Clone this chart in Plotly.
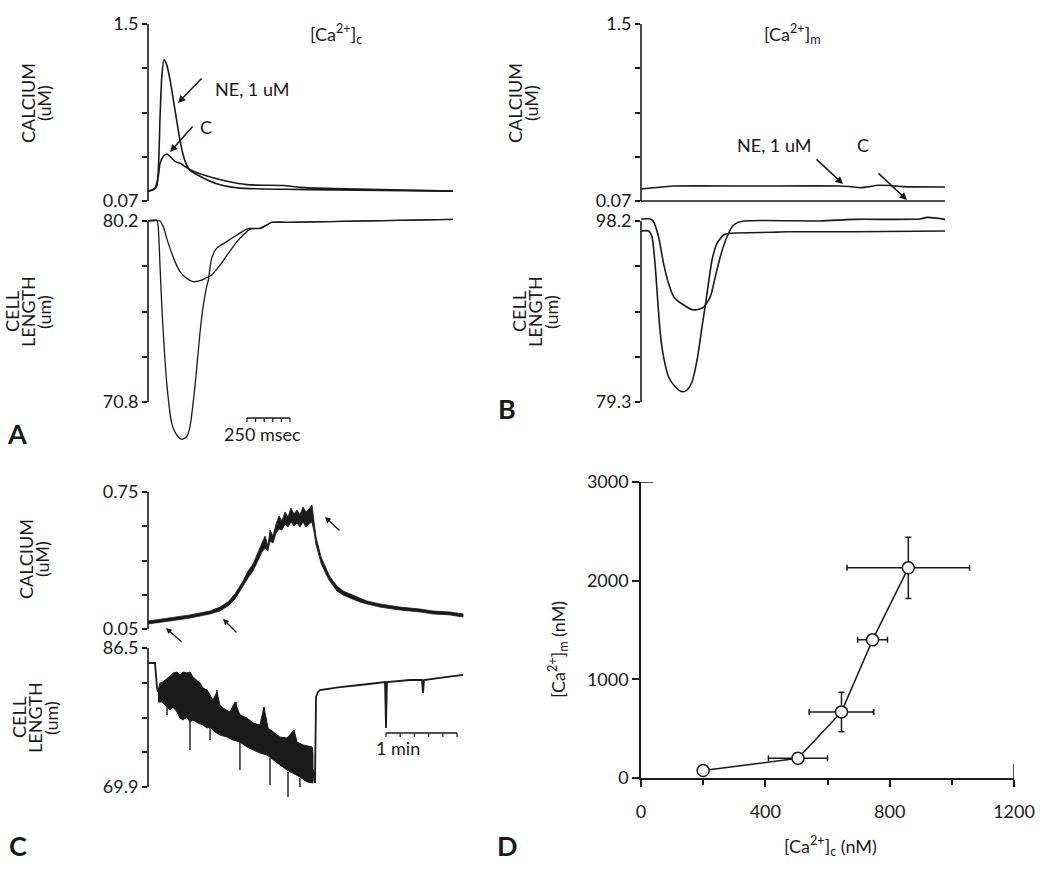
import plotly.graph_objects as go

W, H = 1050, 877
FONT = "Lato"
INK = "#1a1a1a"

# ---------------- Panel A : cytosolic Ca2+ (uM) and cell length (um) vs time (ms)
a_ca_ne_t = [0, 31, 51, 70, 80, 93, 109, 128, 147, 167, 186, 205, 225, 244, 302, 399, 496, 593, 785, 1076, 1773]
a_ca_ne_v = [0.15, 0.16, 0.19, 0.75, 1.07, 1.21, 1.17, 1.05, 0.89, 0.72, 0.56, 0.44, 0.36, 0.32, 0.27, 0.21, 0.18, 0.17, 0.165, 0.16, 0.15]
a_ca_c_t = [0, 41, 60, 70, 89, 109, 128, 157, 186, 225, 264, 302, 399, 496, 593, 787, 884, 1078, 1773]
a_ca_c_v = [0.15, 0.175, 0.27, 0.375, 0.43, 0.45, 0.43, 0.39, 0.375, 0.34, 0.31, 0.29, 0.25, 0.22, 0.2, 0.195, 0.18, 0.17, 0.15]

a_len_ne_t = [0, 51, 60, 70, 80, 89, 109, 138, 167, 196, 225, 244, 273, 302, 322, 341, 351, 370, 399, 458, 516, 574, 593, 651, 690, 719, 806, 1773]
a_len_ne_v = [80.2, 80.25, 79.82, 77.83, 75.84, 74.37, 71.77, 69.69, 69.09, 68.86, 69.0, 69.52, 71.6, 74.37, 75.84, 76.79, 77.14, 78.26, 78.78, 79.13, 79.47, 79.78, 79.82, 79.82, 79.99, 80.13, 80.13, 80.28]
a_len_c_t = [0, 70, 89, 109, 128, 157, 186, 225, 263, 302, 341, 370, 419, 467, 516, 574, 593, 651, 690, 719, 806, 1773]
a_len_c_v = [80.2, 80.2, 79.9, 79.3, 78.78, 78.09, 77.57, 77.22, 77.05, 77.1, 77.26, 77.4, 77.91, 78.52, 79.12, 79.64, 79.78, 79.82, 79.99, 80.13, 80.13, 80.28]

a_ca_ticks = [0.07, 0.4275, 0.785, 1.1425, 1.5]
a_ca_labels = ["0.07", "", "", "", "1.5"]
a_len_ticks = [70.8, 73.15, 75.5, 77.85, 80.2]
a_len_labels = ["70.8", "", "", "", "80.2"]
a_scale_ms = 250
a_scale_div = 50

# ---------------- Panel B : mitochondrial Ca2+ (uM) and cell length (um) vs time (ms)
b_ca_ne_t = [0, 72, 188, 653, 1157, 1234, 1273, 1312, 1379, 1447, 1525, 1767]
b_ca_ne_v = [0.167, 0.177, 0.191, 0.191, 0.191, 0.183, 0.177, 0.183, 0.197, 0.195, 0.186, 0.183]
b_ca_c_t = [0, 1767]
b_ca_c_v = [0.07, 0.07]

b_len_c_t = [0, 54, 73, 102, 131, 160, 190, 248, 306, 364, 403, 432, 461, 500, 538, 596, 1043, 1236, 1624, 1663, 1769]
b_len_c_v = [98.41, 98.41, 98.13, 96.56, 93.78, 91.69, 90.3, 89.43, 88.91, 89.19, 90.3, 92.38, 94.47, 96.56, 97.78, 98.2, 98.2, 98.37, 98.41, 98.58, 98.37]
b_len_ne_t = [0, 44, 64, 83, 97, 112, 131, 160, 199, 238, 267, 297, 326, 355, 384, 413, 442, 480, 519, 752, 849, 1236, 1769]
b_len_ne_v = [97.16, 97.16, 96.56, 93.43, 89.95, 86.47, 84.03, 81.94, 80.9, 80.38, 80.55, 81.42, 83.69, 87.16, 90.65, 94.13, 95.87, 96.74, 96.92, 97.02, 97.08, 97.08, 97.16]

b_ca_ticks = [0.07, 0.4275, 0.785, 1.1425, 1.5]
b_ca_labels = ["0.07", "", "", "", "1.5"]
b_len_ticks = [79.3, 84.025, 88.75, 93.475, 98.2]
b_len_labels = ["79.3", "", "", "", "98.2"]

# ---------------- Panel C : slow Ca2+ rise (uM) and cell length (um) vs time (s)
c_ca_t = [0, 18.6, 35.5, 52.4, 60.8, 67.6, 73.5, 80.3, 84.5, 88.7, 92.9, 96.3, 98.9, 101.4, 103.1, 105.6,
          108.2, 110.7, 113.2, 115.8, 118.3, 120.8, 123.4, 125.9, 128.4, 131, 133.5, 136, 138.6, 140.3,
          142, 143.7, 146.2, 149.6, 152.9, 156.3, 159.7, 164.8, 170.7, 179.1, 185, 196, 212.9, 229.8,
          240.8, 255.2, 266.2]
c_ca_hi = [0.091, 0.106, 0.122, 0.142, 0.162, 0.188, 0.229, 0.295, 0.346, 0.382, 0.438, 0.489, 0.525, 0.474,
           0.556, 0.525, 0.586, 0.627, 0.602, 0.648, 0.622, 0.668, 0.638, 0.658, 0.632, 0.673, 0.648, 0.663,
           0.684, 0.597, 0.52, 0.479, 0.418, 0.372, 0.326, 0.295, 0.27, 0.244, 0.229, 0.208, 0.193, 0.178,
           0.162, 0.152, 0.142, 0.137, 0.127]
c_ca_lo = [0.076, 0.091, 0.106, 0.127, 0.142, 0.168, 0.203, 0.27, 0.311, 0.346, 0.397, 0.443, 0.464, 0.449,
           0.5, 0.489, 0.54, 0.561, 0.556, 0.586, 0.571, 0.597, 0.576, 0.592, 0.571, 0.597, 0.571, 0.586,
           0.597, 0.546, 0.479, 0.443, 0.387, 0.341, 0.3, 0.27, 0.244, 0.224, 0.208, 0.188, 0.178, 0.162,
           0.147, 0.137, 0.127, 0.122, 0.111]

c_len_pre_t = [0, 5.9, 7.6, 8.45]
c_len_pre_v = [84.71, 84.71, 81.8, 81.25]
c_len_top_t = [8.45, 10.1, 12.7, 16.1, 18.6, 21.1, 24.5, 27, 29.6, 32.9, 35.5, 38, 41.4, 43.9, 46.5, 49.9,
               52.4, 54.9, 58.3, 60.8, 63.4, 69.3, 73.5, 77.7, 83.7, 88.7, 94.6, 98, 101.4, 105.6, 111.5,
               117.5, 123.4, 125.9, 131, 138.6, 139.4]
c_len_top_v = [81.25, 82.32, 82.44, 82.8, 83.16, 83.51, 83.63, 83.28, 83.63, 83.51, 83.63, 83.04, 82.68, 82.32,
               81.72, 81.48, 80.89, 80.29, 81.25, 79.69, 79.33, 78.86, 80.05, 78.5, 78.14, 77.54, 77.3, 79.45,
               76.95, 76.47, 75.87, 75.75, 76.71, 75.27, 74.92, 74.68, 73.96]
c_len_bot_t = [8.45, 11.8, 16.1, 18.6, 21.1, 24.5, 27, 29.6, 32.9, 35.5, 38, 42.3, 46.5, 49.9, 52.4, 56.6,
               60.8, 66.8, 71.8, 77.7, 83.7, 88.7, 94.6, 100.6, 105.6, 111.5, 117.5, 122.5, 128.4, 134.4, 139.4]
c_len_bot_v = [80.05, 80.05, 79.45, 79.1, 79.45, 78.86, 78.14, 77.9, 78.26, 77.66, 77.9, 77.54, 77.3, 76.95,
               77.07, 76.47, 76.11, 75.87, 75.51, 75.27, 74.68, 74.32, 73.96, 73.72, 73.12, 72.53, 71.93, 71.57,
               71.09, 70.5, 70.38]
c_len_post_t = [139.4, 141.1, 142, 143.7, 145.3, 162.2, 179.1, 200.3, 201.1, 201.9, 221.4, 231.5, 232.4, 233.2, 246.7, 266.2]
c_len_post_v = [72.0, 70.38, 80.65, 81.25, 81.48, 81.84, 82.08, 82.44, 76.95, 82.44, 82.68, 82.68, 81.13, 82.68, 82.92, 83.28]
c_spike_t = [16.1, 35.5, 52.4, 58.3, 74.4, 77.7, 98.0, 103.1, 118.3, 123.4, 128.4, 138.6]
c_spike_from = [80.29, 78.26, 77.07, 79.93, 78.5, 75.51, 76.95, 73.36, 71.69, 75.16, 70.98, 73.96]
c_spike_to = [78.5, 74.32, 75.51, 81.48, 80.05, 71.93, 79.45, 70.14, 68.71, 76.71, 69.9, 74.68]

c_ca_ticks = [0.05, 0.225, 0.4, 0.575, 0.75]
c_ca_labels = ["0.05", "", "", "", "0.75"]
c_len_ticks = [69.9, 74.05, 78.2, 82.35, 86.5]
c_len_labels = ["69.9", "", "", "", "86.5"]
c_scale_s = 60
c_scale_div = 12

# ---------------- Panel D : [Ca2+]m vs [Ca2+]c (nM)
d_ca_c = [200, 505, 645, 745, 860]
d_ca_m = [75, 200, 670, 1400, 2130]
d_err_c = [0, 95, 104, 48, 197]
d_err_m = [0, 0, 200, 0, 310]
d_xticks = [0, 400, 800, 1200]
d_xminor = [200, 600, 1000]
d_yticks = [0, 1000, 2000, 3000]


# ---------------- helpers (layout geometry in page pixels)
def px(x):
    return x / W


def py(y):
    return 1 - y / H


TICKFONT = dict(family=FONT, size=18, color=INK)


def xaxis(left, right, rng):
    return dict(domain=[px(left), px(right)], range=rng, visible=False, fixedrange=True,
                automargin=False)


def yaxis(top, bot, cal_hi, cal_lo, tickvals, ticktext, anchor):
    (va, pa), (vb, pb) = cal_hi, cal_lo
    slope = (va - vb) / (pb - pa)
    rng = [vb - (bot - pb) * slope, va + (pa - top) * slope]
    return dict(domain=[py(bot), py(top)], range=rng, anchor=anchor, automargin=False,
                showline=False, showgrid=False, zeroline=False,
                ticks="outside", ticklen=5, tickwidth=1.5, tickcolor=INK,
                tickvals=tickvals, ticktext=ticktext,
                tickfont=TICKFONT, fixedrange=True)


fig = go.Figure()


def line(t, v, ax, width=1.6, shape="spline"):
    fig.add_trace(go.Scatter(x=t, y=v, mode="lines", xaxis="x" + ax, yaxis="y" + ax,
                             line=dict(color=INK, width=width, shape=shape, smoothing=0.6),
                             hoverinfo="skip", showlegend=False))


def band(t_hi, hi, t_lo, lo, ax, edge=1.0):
    fig.add_trace(go.Scatter(x=list(t_hi) + list(t_lo)[::-1], y=list(hi) + list(lo)[::-1],
                             mode="lines", fill="toself", fillcolor=INK,
                             xaxis="x" + ax, yaxis="y" + ax,
                             line=dict(color=INK, width=edge),
                             hoverinfo="skip", showlegend=False))


# Panel A
line(a_ca_ne_t, a_ca_ne_v, "1")
line(a_ca_c_t, a_ca_c_v, "1")
line(a_len_ne_t, a_len_ne_v, "2", width=1.3)
line(a_len_c_t, a_len_c_v, "2", width=1.3)
# Panel B
line(b_ca_ne_t, b_ca_ne_v, "3")
line(b_ca_c_t, b_ca_c_v, "3")
line(b_len_ne_t, b_len_ne_v, "4")
line(b_len_c_t, b_len_c_v, "4")
# Panel C
band(c_ca_t, c_ca_hi, c_ca_t, c_ca_lo, "5", edge=0.8)
line(c_len_pre_t, c_len_pre_v, "6", width=1.8, shape="linear")
band(c_len_top_t, c_len_top_v, c_len_bot_t, c_len_bot_v, "6", edge=1.0)
line(c_len_post_t, c_len_post_v, "6", width=1.8, shape="linear")
sx, sy = [], []
for t, a, b in zip(c_spike_t, c_spike_from, c_spike_to):
    sx += [t, t, None]
    sy += [a, b, None]
line(sx, sy, "6", width=1.4, shape="linear")

# Panel D
fig.add_trace(go.Scatter(
    x=d_ca_c, y=d_ca_m, mode="lines+markers", xaxis="x7", yaxis="y7",
    line=dict(color=INK, width=1.5),
    marker=dict(symbol="circle", size=12, color="white", line=dict(color=INK, width=1.5)),
    error_x=dict(type="data", array=d_err_c, color=INK, thickness=1.5, width=3),
    error_y=dict(type="data", array=d_err_m, color=INK, thickness=1.5, width=3),
    cliponaxis=False, hoverinfo="skip", showlegend=False))

T_A = 5.814   # ms per pixel in A/B
T_C = 0.845   # s per pixel in C

layout = dict(
    width=W, height=H, margin=dict(l=0, r=0, t=0, b=0, pad=0, autoexpand=False),
    paper_bgcolor="white", plot_bgcolor="rgba(0,0,0,0)",
    font=dict(family=FONT, size=18, color=INK),
    showlegend=False,
    xaxis=xaxis(148, 453, [0, 305 * T_A]),
    yaxis=yaxis(18, 206, (1.5, 24), (0.07, 201), a_ca_ticks, a_ca_labels, "x"),
    xaxis2=xaxis(148, 453, [0, 305 * T_A]),
    yaxis2=yaxis(213, 446, (80.2, 221), (70.8, 402), a_len_ticks, a_len_labels, "x2"),
    xaxis3=xaxis(641, 945, [0, 304 * T_A]),
    yaxis3=yaxis(18, 206, (1.5, 24), (0.07, 201), b_ca_ticks, b_ca_labels, "x3"),
    xaxis4=xaxis(641, 945, [0, 304 * T_A]),
    yaxis4=yaxis(213, 410, (98.2, 221), (79.3, 402), b_len_ticks, b_len_labels, "x4"),
    xaxis5=xaxis(148, 464, [0, 316 * T_C]),
    yaxis5=yaxis(484, 634, (0.75, 492), (0.05, 629), c_ca_ticks, c_ca_labels, "x5"),
    xaxis6=xaxis(148, 464, [0, 316 * T_C]),
    yaxis6=yaxis(640, 802, (86.5, 648), (69.9, 787), c_len_ticks, c_len_labels, "x6"),
    xaxis7=dict(domain=[px(641), px(1014)], range=[0, 1200], anchor="y7", automargin=False,
                showline=True, linecolor=INK, linewidth=1.5, showgrid=False, zeroline=False,
                ticks="outside", ticklen=7, tickwidth=1.5, tickcolor=INK,
                tickvals=d_xticks, ticklabelstandoff=10,
                minor=dict(tickvals=d_xminor, ticks="outside", ticklen=5, tickwidth=1.5, tickcolor=INK, showgrid=False),
                tickfont=TICKFONT, fixedrange=True),
    yaxis7=dict(domain=[py(778), py(482)], range=[0, 3000], anchor="x7", automargin=False,
                showline=True, linecolor=INK, linewidth=1.5, showgrid=False, zeroline=False,
                ticks="outside", ticklen=7, tickwidth=1.5, tickcolor=INK,
                tickvals=d_yticks, tickfont=TICKFONT, fixedrange=True),
)

shapes = []
# axis spines for the trace panels
for ax, ticks in [("", a_ca_ticks), ("2", a_len_ticks), ("3", b_ca_ticks),
                  ("4", b_len_ticks), ("5", c_ca_ticks), ("6", c_len_ticks)]:
    shapes.append(dict(type="line", xref="x" + ax + " domain", yref="y" + ax, x0=0, x1=0,
                       y0=ticks[0], y1=ticks[-1], line=dict(color=INK, width=1.6)))


def scale_bar(xr, yr, x0, y0, length, div):
    shapes.append(dict(type="line", xref=xr, yref=yr, x0=x0, x1=x0 + length, y0=y0, y1=y0,
                       line=dict(color=INK, width=1.5)))
    n = int(round(length / div))
    for i in range(n + 1):
        shapes.append(dict(type="line", xref=xr, yref=yr, x0=x0 + i * div, x1=x0 + i * div,
                           ysizemode="pixel", yanchor=y0, y0=0, y1=-4,
                           line=dict(color=INK, width=1.2)))


scale_bar("x2", "y2", 99 * T_A, 69.97, a_scale_ms, a_scale_div)
scale_bar("x6", "y6", 238 * T_C, 76.35, c_scale_s, c_scale_div)

# panel D extra tick marks (3000 crossing right, 1200 crossing up)
shapes.append(dict(type="line", xref="x7", yref="y7", xsizemode="pixel", xanchor=0, x0=0, x1=12,
                   y0=3000, y1=3000, line=dict(color=INK, width=1.5)))
shapes.append(dict(type="line", xref="x7", yref="y7", ysizemode="pixel", yanchor=0, y0=0, y1=14,
                   x0=1200, x1=1200, line=dict(color=INK, width=1.5)))
layout["shapes"] = shapes

ann = []


def text(s, x, y, size=18, angle=0, bold=False):
    if bold:
        s = "<b>" + s + "</b>"
    ann.append(dict(text=s, x=px(x), y=py(y), xref="paper", yref="paper",
                    xanchor="center", yanchor="middle", showarrow=False, textangle=angle,
                    font=dict(family=FONT, size=size, color=INK)))


def arrow(head, tail, width=1.5, size=1.0):
    ann.append(dict(text="", x=px(head[0]), y=py(head[1]), xref="paper", yref="paper",
                    ax=tail[0] - head[0], ay=tail[1] - head[1], showarrow=True,
                    arrowhead=2, arrowsize=size, arrowwidth=width, arrowcolor=INK))


# rotated y titles (one annotation per line)
for lines, xs, yc in [
    (["CALCIUM", "(uM)"], [28, 44], 103),
    (["CELL", "LENGTH", "(um)"], [12, 28, 44], 312),
    (["CALCIUM", "(uM)"], [515, 531], 103),
    (["CELL", "LENGTH", "(um)"], [519, 535, 551], 312),
    (["CALCIUM", "(uM)"], [26, 42], 559),
    (["CELL", "LENGTH", "(um)"], [19, 35, 51], 718),
]:
    for s, x in zip(lines, xs):
        text(s, x, yc, angle=-90)

text("[Ca<sup>2+</sup>]<sub>c</sub>", 336, 34)
text("[Ca<sup>2+</sup>]<sub>m</sub>", 792, 34)
text("NE, 1 uM", 252, 89)
text("C", 206, 127)
arrow((178, 103), (203, 77))
arrow((170, 152), (194, 125))
text("NE, 1 uM", 774, 145)
text("C", 863, 145)
arrow((843, 184), (815, 158))
arrow((907, 200), (877, 172))
arrow((166, 628), (183, 643), width=1.3, size=0.9)
arrow((223, 619), (238, 634), width=1.3, size=0.9)
arrow((325, 517), (341, 532), width=1.3, size=0.9)
text("250 msec", 262, 434)
text("1 min", 398, 748)

text("[Ca<sup>2+</sup>]<sub>m</sub> (nM)", 558, 650, angle=-90)
text("[Ca<sup>2+</sup>]<sub>c</sub> (nM)", 830, 846)

text("A", 17, 433, size=27, bold=True)
text("B", 507, 408, size=27, bold=True)
text("C", 18, 845, size=27, bold=True)
text("D", 507, 845, size=27, bold=True)

layout["annotations"] = ann
fig.update_layout(**layout)

fig.write_html("out.html", config={"displayModeBar": False},
               post_script="document.body.style.margin='0';")
